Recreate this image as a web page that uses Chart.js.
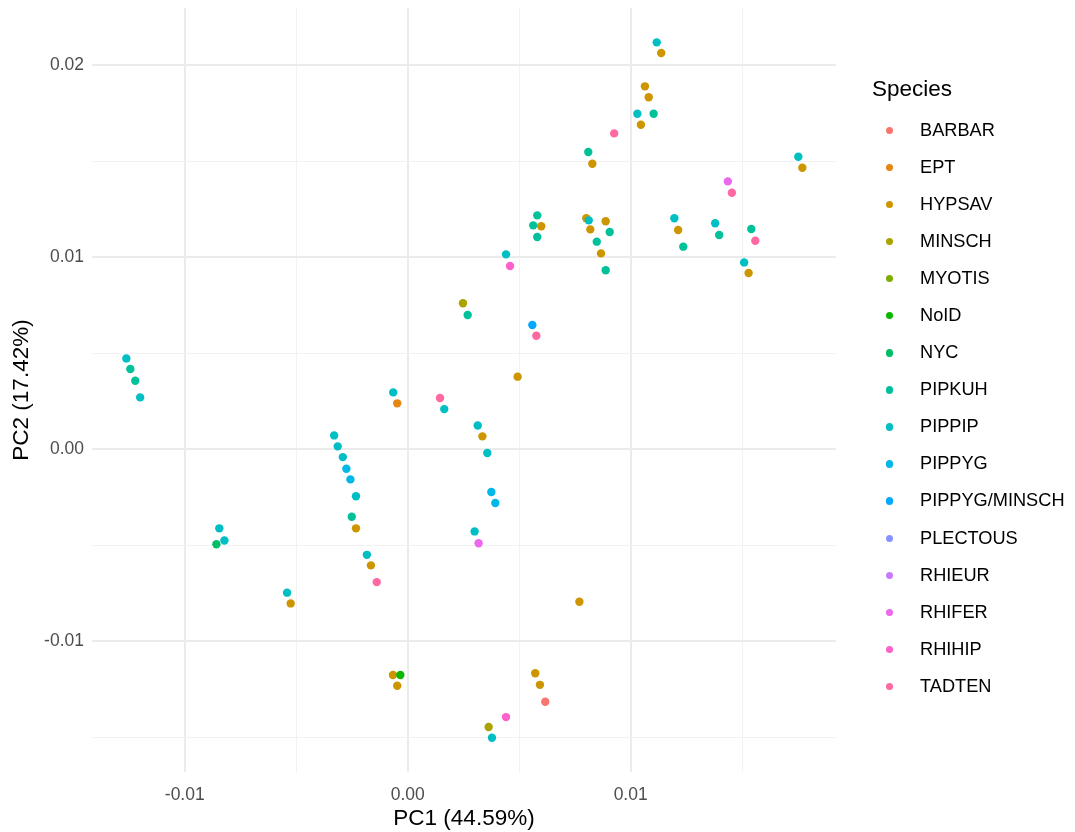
<!DOCTYPE html>
<html>
<head>
<meta charset="utf-8">
<title>PCA of bat call features</title>
<script src="https://cdn.jsdelivr.net/npm/chart.js@4.4.1/dist/chart.umd.min.js"></script>
<style>
  html, body { margin: 0; padding: 0; background: #ffffff; }
  #wrap { position: relative; width: 1075px; height: 832px; font-family: "Liberation Sans", Arial, sans-serif; }
  #plot { position: absolute; left: 0; top: 0; }
  #legend { position: absolute; left: 872px; top: 74px; }
  #legend .title { font-size: 22.5px; color: #000; height: 30px; line-height: 30px; margin-bottom: 7.5px; white-space: nowrap; }
  #legend .item { position: relative; height: 37.1px; line-height: 37.1px; font-size: 18.2px; color: #000; padding-left: 48px; white-space: nowrap; }
  #legend .dot { position: absolute; left: 13.5px; top: 15px; width: 7.5px; height: 7.5px; border-radius: 50%; }
</style>
</head>
<body>
<div id="wrap">
  <canvas id="plot" width="1075" height="832"></canvas>
  <div id="legend"></div>
</div>
<script>
// Species levels and their hue colours
const species = ["BARBAR", "EPT", "HYPSAV", "MINSCH", "MYOTIS", "NoID", "NYC", "PIPKUH",
  "PIPPIP", "PIPPYG", "PIPPYG/MINSCH", "PLECTOUS", "RHIEUR", "RHIFER", "RHIHIP", "TADTEN"];
const speciesColors = ["#F8766D", "#E68613", "#CD9600", "#ABA300", "#7CAE00", "#0CB702", "#00BE67", "#00C19A",
  "#00BFC4", "#00B8E7", "#00A9FF", "#8494FF", "#C77CFF", "#ED68ED", "#FF61CC", "#FF68A1"];

// PC scores per species: [PC1, PC2]
const BARBAR = [[0.00617, -0.01316]];
const EPT = [[-0.00047, 0.00238]];
const HYPSAV = [
  [0.01137, 0.02063], [0.01064, 0.01889], [0.01081, 0.01832], [0.01046, 0.01689],
  [0.00828, 0.01486], [0.01770, 0.01465], [0.00599, 0.01160], [0.00801, 0.01202],
  [0.00888, 0.01186], [0.00819, 0.01144], [0.00867, 0.01019], [0.01213, 0.01141],
  [0.01529, 0.00917], [0.00493, 0.00377], [0.00335, 0.00066], [-0.00232, -0.00413],
  [-0.00165, -0.00606], [-0.00525, -0.00804], [-0.00066, -0.01177], [-0.00047, -0.01233],
  [0.00770, -0.00795], [0.00572, -0.01168], [0.00593, -0.01228]
];
const MINSCH = [[0.00248, 0.00759], [0.00363, -0.01448]];
const MYOTIS = [];
const NoID = [[-0.00033, -0.01177]];
const NYC = [[-0.00858, -0.00496]];
const PIPKUH = [
  [0.01103, 0.01746], [0.00810, 0.01547], [0.00581, 0.01217], [0.00563, 0.01165],
  [0.00581, 0.01104], [0.00906, 0.01130], [0.00848, 0.01080], [0.00888, 0.00931],
  [0.01236, 0.01054], [0.01397, 0.01115], [0.01541, 0.01146], [0.00269, 0.00698],
  [-0.01244, 0.00417], [-0.01222, 0.00356], [-0.00251, -0.00353]
];
const PIPPIP = [
  [0.01117, 0.02118], [0.01030, 0.01746], [0.00812, 0.01191], [0.01752, 0.01522],
  [0.01196, 0.01202], [0.01379, 0.01176], [0.01509, 0.00972], [0.00441, 0.01014],
  [0.00314, 0.00123], [0.00357, -0.00021], [0.00300, -0.00429], [0.00378, -0.01504],
  [-0.01262, 0.00472], [-0.01200, 0.00269], [-0.00065, 0.00295], [0.00164, 0.00208],
  [-0.00330, 0.00071], [-0.00314, 0.00014], [-0.00291, -0.00042], [-0.00232, -0.00246],
  [-0.00845, -0.00413], [-0.00822, -0.00476], [-0.00183, -0.00551], [-0.00541, -0.00748]
];
const PIPPYG = [[0.00375, -0.00224], [0.00393, -0.00281], [-0.00275, -0.00103], [-0.00257, -0.00158]];
const PIPPYG_MINSCH = [[0.00559, 0.00646]];
const PLECTOUS = [];
const RHIEUR = [];
const RHIFER = [[0.01436, 0.01394], [0.00318, -0.00491]];
const RHIHIP = [[0.00459, 0.00953], [0.00441, -0.01396]];
const TADTEN = [
  [0.00926, 0.01644], [0.01454, 0.01335], [0.01559, 0.01085],
  [0.00577, 0.00590], [0.00145, 0.00266], [-0.00139, -0.00693]
];
const seriesBySpecies = [BARBAR, EPT, HYPSAV, MINSCH, MYOTIS, NoID, NYC, PIPKUH,
  PIPPIP, PIPPYG, PIPPYG_MINSCH, PLECTOUS, RHIEUR, RHIFER, RHIHIP, TADTEN];

// Axis ranges and labels
const xRange = [-0.01416, 0.01921];
const yRange = [-0.01682, 0.02297];
const xTitle = "PC1 (44.59%)";
const yTitle = "PC2 (17.42%)";
const legendTitle = "Species";

const fmt = v => {
  const r = Math.round(v * 1000) / 1000;
  return (Math.abs(r) < 1e-9 ? 0 : r).toFixed(2);
};
const isMajor = v => Math.abs(Math.round(v / 0.01) * 0.01 - v) < 1e-9;

const datasets = species.map((name, i) => ({
  label: name,
  data: seriesBySpecies[i].map(p => ({ x: p[0], y: p[1] })),
  backgroundColor: speciesColors[i],
  borderWidth: 0,
  pointRadius: 4.2,
  pointHoverRadius: 4.2,
  order: species.length - i
}));

const gridOpts = {
  drawTicks: false,
  color: ctx => isMajor(ctx.tick.value) ? "#EBEBEB" : "#F2F2F2",
  lineWidth: ctx => isMajor(ctx.tick.value) ? 2 : 1
};
const tickFont = { size: 17.5, family: "Liberation Sans" };
const titleFont = { size: 22.5, family: "Liberation Sans" };

new Chart(document.getElementById("plot"), {
  type: "scatter",
  data: { datasets },
  options: {
    responsive: false,
    animation: false,
    events: [],
    layout: { padding: { left: 0, right: 239, top: 8, bottom: 0 } },
    plugins: { legend: { display: false }, tooltip: { enabled: false } },
    scales: {
      x: {
        type: "linear",
        min: xRange[0], max: xRange[1],
        border: { display: false },
        grid: gridOpts,
        ticks: {
          stepSize: 0.005, includeBounds: false, autoSkip: false, maxRotation: 0,
          padding: 13, color: "#4D4D4D", font: tickFont,
          callback: v => isMajor(v) ? fmt(v) : ""
        },
        title: { display: true, text: xTitle, color: "#000", font: titleFont, padding: { top: 0, bottom: 0 } },
        afterFit: s => { s.height = 60; s.paddingLeft = 0; s.paddingRight = 0; }
      },
      y: {
        type: "linear",
        min: yRange[0], max: yRange[1],
        border: { display: false },
        grid: gridOpts,
        ticks: {
          stepSize: 0.005, includeBounds: false, autoSkip: false,
          padding: 8, color: "#4D4D4D", font: tickFont,
          callback: v => isMajor(v) ? fmt(v) : ""
        },
        title: { display: true, text: yTitle, color: "#000", font: titleFont, padding: { top: 8.5, bottom: 0 } },
        afterFit: s => { s.width = 92; s.paddingTop = 0; s.paddingBottom = 0; }
      }
    }
  }
});

// Legend built from the same species/colour lists
const legend = document.getElementById("legend");
const t = document.createElement("div");
t.className = "title";
t.textContent = legendTitle;
legend.appendChild(t);
species.forEach((name, i) => {
  const row = document.createElement("div");
  row.className = "item";
  const dot = document.createElement("span");
  dot.className = "dot";
  dot.style.background = speciesColors[i];
  row.appendChild(dot);
  row.appendChild(document.createTextNode(name));
  legend.appendChild(row);
});
</script>
</body>
</html>
